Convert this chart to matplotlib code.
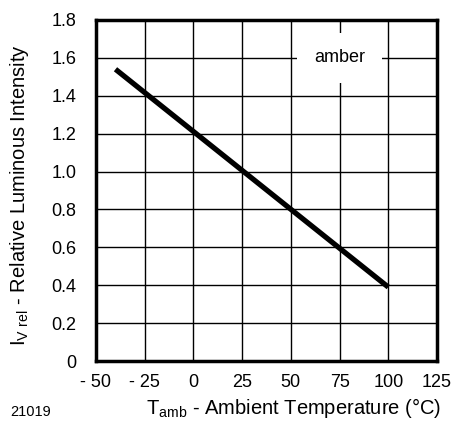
import matplotlib
matplotlib.use('Agg')
import matplotlib.pyplot as plt

plt.rcParams['font.family'] = ['Liberation Sans', 'DejaVu Sans']

# dados
temperatura = [-40, 100]
intensidade = [1.54, 0.39]

x_ticks = [-50, -25, 0, 25, 50, 75, 100, 125]
x_labels = ['- 50', '- 25', '0', '25', '50', '75', '100', '125']
y_ticks = [0, 0.2, 0.4, 0.6, 0.8, 1.0, 1.2, 1.4, 1.6, 1.8]
y_labels = ['0', '0.2', '0.4', '0.6', '0.8', '1.0', '1.2', '1.4', '1.6', '1.8']

fig = plt.figure(figsize=(4.54, 4.23), dpi=100)
ax = fig.add_axes([96 / 454, 1 - 361 / 423, 341 / 454, 341 / 423])

ax.plot(temperatura, intensidade, color='black', linewidth=3.8, solid_capstyle='butt', zorder=3)

ax.set_xlim(-50, 125)
ax.set_ylim(0, 1.8)
ax.set_xticks(x_ticks)
ax.set_xticklabels(x_labels)
ax.set_yticks(y_ticks)
ax.set_yticklabels(y_labels)
ax.tick_params(axis='y', length=0, labelsize=13, pad=14)
ax.tick_params(axis='x', length=0, labelsize=13, pad=9)
ax.grid(True, color='black', linewidth=1)
ax.set_axisbelow(True)
for s in ax.spines.values():
    s.set_linewidth(2.5)

ax.text(75, 1.6, 'amber', fontsize=13, ha='center', va='center', zorder=4,
        bbox=dict(facecolor='white', edgecolor='none', pad=12))

# rótulos dos eixos posicionados à mão
fig.text(294 / 454, 1 - 408 / 423, r'T$_{\mathregular{amb}}$ - Ambient Temperature (°C)',
         fontsize=14.5, ha='center', va='center')
fig.text(20 / 454, 1 - 195 / 423, r'I$_{\mathregular{V\ rel}}$ - Relative Luminous Intensity',
         fontsize=14.5, ha='center', va='center', rotation=90)
fig.text(10 / 454, 1 - 412 / 423, '21019', fontsize=10.5, va='center')

fig.savefig('out.png', dpi=100)
